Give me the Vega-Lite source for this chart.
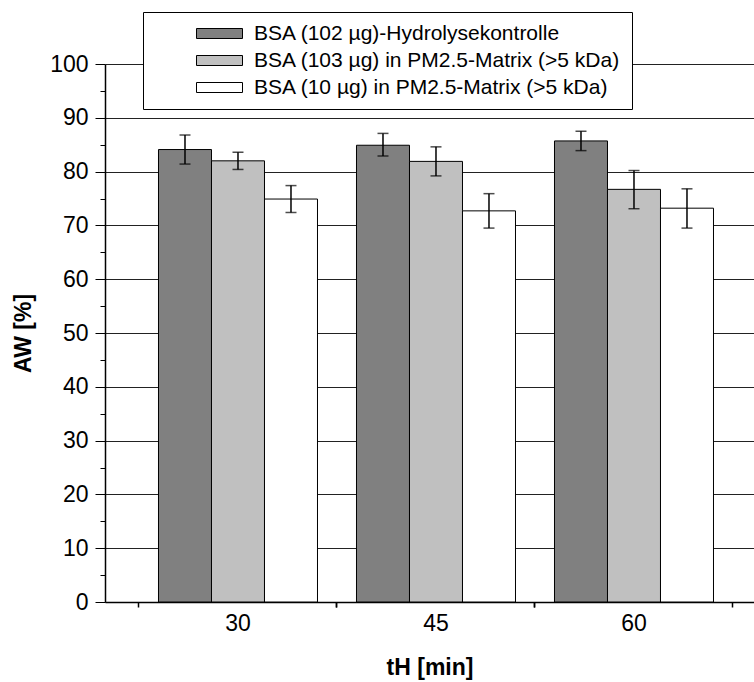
{
  "$schema": "https://vega.github.io/schema/vega-lite/v6.json",
  "width": 649,
  "height": 538,
  "autosize": {"type": "none"},
  "padding": {"left": 105, "top": 64, "right": 0, "bottom": 80},
  "background": "white",
  "config": {
    "font": "Liberation Sans",
    "view": {"stroke": null},
    "axis": {"labelColor": "black", "titleColor": "black", "tickColor": "black", "domainColor": "black"}
  },
  "data": {
    "values": [
      {"t": "30", "series": "BSA (102 µg)-Hydrolysekontrolle", "value": 84.1, "lo": 81.4, "hi": 86.8},
      {"t": "30", "series": "BSA (103 µg) in PM2.5-Matrix (>5 kDa)", "value": 82.0, "lo": 80.4, "hi": 83.6},
      {"t": "30", "series": "BSA (10 µg) in PM2.5-Matrix (>5 kDa)", "value": 74.9, "lo": 72.4, "hi": 77.4},
      {"t": "45", "series": "BSA (102 µg)-Hydrolysekontrolle", "value": 84.9, "lo": 82.9, "hi": 87.1},
      {"t": "45", "series": "BSA (103 µg) in PM2.5-Matrix (>5 kDa)", "value": 81.9, "lo": 79.2, "hi": 84.6},
      {"t": "45", "series": "BSA (10 µg) in PM2.5-Matrix (>5 kDa)", "value": 72.7, "lo": 69.5, "hi": 75.9},
      {"t": "60", "series": "BSA (102 µg)-Hydrolysekontrolle", "value": 85.7, "lo": 83.9, "hi": 87.5},
      {"t": "60", "series": "BSA (103 µg) in PM2.5-Matrix (>5 kDa)", "value": 76.7, "lo": 73.1, "hi": 80.2},
      {"t": "60", "series": "BSA (10 µg) in PM2.5-Matrix (>5 kDa)", "value": 73.2, "lo": 69.5, "hi": 76.8}
    ]
  },
  "encoding": {
    "x": {
      "field": "t", "type": "nominal", "sort": ["30", "45", "60"],
      "scale": {"paddingInner": 0, "paddingOuter": 0.1389, "align": 0.618}
    },
    "xOffset": {
      "field": "series", "type": "nominal",
      "scale": {
        "domain": ["BSA (102 µg)-Hydrolysekontrolle", "BSA (103 µg) in PM2.5-Matrix (>5 kDa)", "BSA (10 µg) in PM2.5-Matrix (>5 kDa)"],
        "paddingInner": 0, "paddingOuter": 0.368
      }
    }
  },
  "layer": [
    {
      "mark": {"type": "bar", "stroke": "black", "strokeWidth": 1},
      "encoding": {
        "x": {
          "field": "t", "type": "nominal", "sort": ["30", "45", "60"],
          "axis": {
            "orient": "bottom", "title": "tH [min]", "labelAngle": 0, "ticks": false, "tickSize": 0,
            "labelPadding": 10, "labelFontSize": 23, "titleFontSize": 23, "titleFontWeight": "bold",
            "titlePadding": 21, "domainWidth": 1.5, "grid": false
          }
        },
        "y": {
          "field": "value", "type": "quantitative",
          "scale": {"domain": [0, 100], "nice": false},
          "axis": {
            "orient": "left", "title": "AW [%]", "values": [0, 10, 20, 30, 40, 50, 60, 70, 80, 90, 100],
            "grid": true, "gridColor": "#222", "gridWidth": 1, "gridOpacity": 1,
            "tickSize": 10, "tickWidth": 1, "labelPadding": 7, "labelFontSize": 23,
            "titleFontSize": 23, "titleFontWeight": "bold", "titlePadding": 14, "domainWidth": 1.5
          }
        },
        "color": {
          "field": "series", "type": "nominal",
          "scale": {
            "domain": ["BSA (102 µg)-Hydrolysekontrolle", "BSA (103 µg) in PM2.5-Matrix (>5 kDa)", "BSA (10 µg) in PM2.5-Matrix (>5 kDa)"],
            "range": ["#808080", "#c0c0c0", "#ffffff"]
          },
          "legend": {
            "orient": "none", "legendX": 38, "legendY": -52, "title": null,
            "fillColor": "white", "strokeColor": "black", "padding": 11,
            "symbolType": "M-4.6,-1H4.6V1H-4.6Z", "symbolSize": 100,
            "symbolStrokeColor": "black", "symbolStrokeWidth": 1, "symbolOpacity": 1,
            "symbolOffset": 55, "labelOffset": 24, "labelFontSize": 21, "labelColor": "black",
            "rowPadding": 5, "labelLimit": 500
          }
        }
      }
    },
    {
      "mark": {"type": "rule", "color": "black", "strokeWidth": 1.5},
      "encoding": {
        "x": {
          "field": "t", "type": "nominal", "sort": ["30", "45", "60"],
          "axis": {"orient": "bottom", "title": null, "labels": false, "domain": false, "grid": false, "ticks": true, "tickSize": 5, "tickWidth": 1.5, "bandPosition": 0}
        },
        "y": {
          "field": "lo", "type": "quantitative",
          "axis": {"orient": "left", "title": null, "labels": false, "domain": false, "grid": false, "values": [5, 15, 25, 35, 45, 55, 65, 75, 85, 95], "tickSize": 5, "tickWidth": 1}
        },
        "y2": {"field": "hi"}
      }
    },
    {
      "mark": {"type": "tick", "color": "black", "thickness": 1.5, "size": 11},
      "encoding": {
        "x": {
          "field": "t", "type": "nominal", "sort": ["30", "45", "60"],
          "axis": {"orient": "bottom", "title": null, "labels": false, "domain": false, "grid": false, "ticks": true, "tickSize": 5, "tickWidth": 1.5, "bandPosition": 1}
        },
        "y": {"field": "hi", "type": "quantitative", "axis": null}
      }
    },
    {
      "mark": {"type": "tick", "color": "black", "thickness": 1.5, "size": 11},
      "encoding": {
        "x": {"field": "t", "type": "nominal", "sort": ["30", "45", "60"], "axis": null},
        "y": {"field": "lo", "type": "quantitative", "axis": null}
      }
    }
  ],
  "resolve": {"axis": {"x": "independent", "y": "independent"}}
}
